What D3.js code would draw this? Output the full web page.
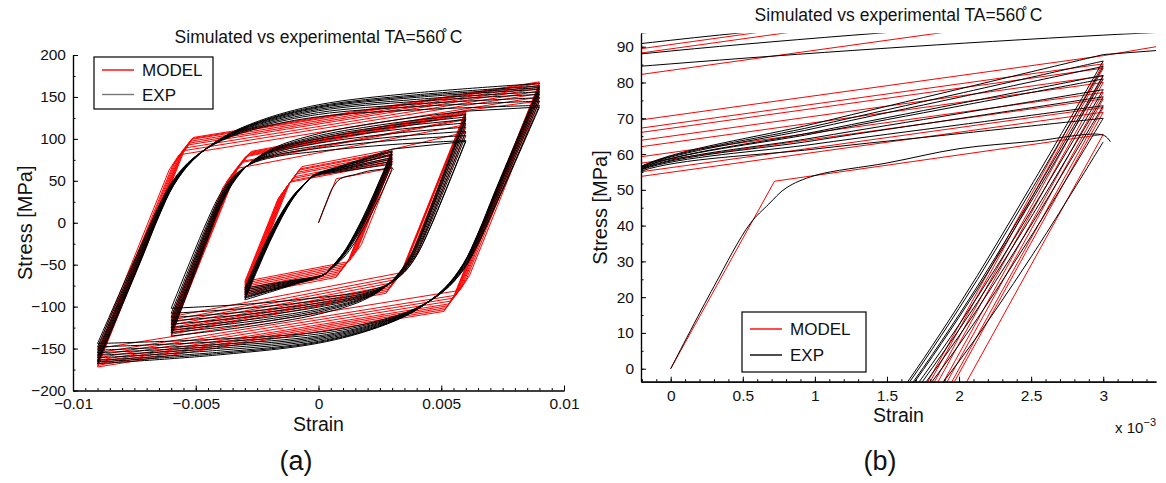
<!DOCTYPE html>
<html><head><meta charset="utf-8">
<script src="https://cdn.jsdelivr.net/npm/d3@7"></script>
<style>
body{margin:0;background:#fff}
svg{display:block}
text{font-family:"Liberation Sans",Arial,Helvetica,sans-serif;fill:#111}
</style>
</head><body>
<svg id="chart" width="1166" height="483"></svg>
<script>
// ---------------- DATA ----------------
const amplitudes = [0.003, 0.006, 0.009];

// MODEL (red): peak stresses at +a (first value of each block is reached by loading/transition,
// last value of blocks A,B is passed through while loading to the next amplitude) and at -a
const modelInitial = [[0, 0], [0.00072, 52.4], [0.003, 65.5]];
const modelMaxA = [65.5, 71.7, 73.0, 75.4, 77.2, 80.0, 81.8, 84.0, 85.2, 87.5];
const modelMinA = [-70, -72, -74, -76, -78, -80, -82, -84, -86];
const modelMaxB = [108, 117, 123, 124.2, 129, 130, 131, 132, 133, 134];
const modelMinB = [-112, -116, -119, -122, -125, -127, -129, -131, -133];
const modelMaxC = [145, 150, 154, 157, 160, 162, 164, 166, 167, 168];
const modelMinC = [-150, -155, -158, -161, -164, -166, -168, -170, -172];
// model branch parameters per amplitude: elastic modulus, second slope, its stress span, hardening slope [MPa]
const modelE = [73000, 73000, 73000];
const modelE2 = [40000, 38000, 45000];
const modelD = [20, 22, 18];
const modelH = [5600, 5600, 4700];

// EXPERIMENT (black)
const expInitial = [[0, 0], [0.0003, 23], [0.00055, 40.5], [0.00068, 46], [0.0008, 50.5], [0.001, 54],
  [0.0015, 57.5], [0.002, 61.5], [0.0025, 63.5], [0.003, 65.3], [0.00305, 63.4]];
const expMaxA = [63.4, 70, 73.5, 76, 78, 81, 82, 84.5, 86, 87.8];
const expMinA = [-78, -80, -82, -84, -86, -88, -89, -90, -92];
const expMaxB = [97, 98, 104, 109, 114, 119, 123, 126, 129, 133];
const expMinB = [-102, -108, -113, -117, -121, -125, -128, -131, -135];
const expMaxC = [138, 140, 145, 149, 153, 156, 159, 161, 163, 166];
const expMinC = [-144, -148, -152, -155, -158, -161, -164, -166, -168];
// mean reversal branch of each amplitude: strain / stress distance from the start tip
const expBranchStrainA = [0, 0.0005, 0.001, 0.0015, 0.002, 0.0025, 0.0028, 0.004, 0.005, 0.006];
const expBranchStressA = [0, 34, 66, 94, 117, 133, 141, 150, 157, 164];
const expStartWeightA = [1, 0.88, 0.7, 0.5, 0.3, 0.15, 0.08, 0, 0, 0];
const expEndWeightA = [0, 0, 0, 0.02, 0.05, 0.1, 0.14, 0.4, 0.7, 1];
const expBranchStrainB = [0, 0.0008, 0.0015, 0.002, 0.0025, 0.0032, 0.0042, 0.006, 0.009, 0.012];
const expBranchStressB = [0, 60, 112, 146, 170, 190, 204, 216, 228, 236];
const expStartWeightB = [1, 0.88, 0.7, 0.5, 0.32, 0.15, 0.05, 0, 0, 0];
const expEndWeightB = [0, 0, 0, 0.03, 0.08, 0.18, 0.36, 0.6, 0.82, 1];
const expBranchStrainC = [0, 0.001, 0.0018, 0.0025, 0.0031, 0.0039, 0.0051, 0.0066, 0.009, 0.013, 0.018];
const expBranchStressC = [0, 68, 122, 170, 204, 232, 256, 273, 289, 300, 308];
const expStartWeightC = [1, 0.9, 0.75, 0.55, 0.35, 0.2, 0.08, 0.02, 0, 0, 0];
const expEndWeightC = [0, 0, 0, 0.02, 0.05, 0.1, 0.2, 0.35, 0.55, 0.78, 1];
const expMeanMin = [-85, -120, -156];

// axes
const leftXTicks = [-0.01, -0.005, 0, 0.005, 0.01];
const leftXTickLabels = ["\u22120.01", "\u22120.005", "0", "0.005", "0.01"];
const leftYTicks = [-200, -150, -100, -50, 0, 50, 100, 150, 200];
const rightXTicks = [0, 0.0005, 0.001, 0.0015, 0.002, 0.0025, 0.003];
const rightXTickLabels = ["0", "0.5", "1", "1.5", "2", "2.5", "3"];
const rightYTicks = [0, 10, 20, 30, 40, 50, 60, 70, 80, 90];
const seriesNames = ["MODEL", "EXP"];
const seriesColors = ["#ff0000", "#000000"];
const titleText = "Simulated vs experimental TA=560\u030A C";

// ---------------- BUILD BRANCHES ----------------
const modelMax = [modelMaxA, modelMaxB, modelMaxC], modelMin = [modelMinA, modelMinB, modelMinC];
const expMax = [expMaxA, expMaxB, expMaxC], expMin = [expMinA, expMinB, expMinC];
const expShapes = [
  {de: expBranchStrainA, ds: expBranchStressA, ws: expStartWeightA, we: expEndWeightA},
  {de: expBranchStrainB, ds: expBranchStressB, ws: expStartWeightB, we: expEndWeightB},
  {de: expBranchStrainC, ds: expBranchStressC, ws: expStartWeightC, we: expEndWeightC}];

function tipSequence(maxs, mins) {
  const seq = [];
  amplitudes.forEach((a, b) => {
    seq.push({e: a, s: maxs[b][0], b});
    mins[b].forEach((m, i) => {
      seq.push({e: -a, s: m, b});
      seq.push({e: a, s: maxs[b][i + 1], b});
    });
  });
  return seq;
}

function modelBranch(p, q) {
  if (Math.sign(p.e) === Math.sign(q.e)) return [[p.e, p.s], [q.e, q.s]];
  const b = q.b, dir = Math.sign(q.e - p.e);
  const U = Math.abs(q.e - p.e), V = (q.s - p.s) * dir;
  const E = modelE[b], E2 = modelE2[b], d = modelD[b], H = modelH[b];
  const v1 = (U - d / E2 - (V - d) / H) / (1 / E - 1 / H);
  const u1 = v1 / E, u2 = u1 + d / E2;
  return [[p.e, p.s], [p.e + dir * u1, p.s + dir * v1], [p.e + dir * u2, p.s + dir * (v1 + d)], [q.e, q.s]];
}

function expBranch(p, q) {
  if (Math.sign(p.e) === Math.sign(q.e)) return [[p.e, p.s], [q.e, q.s]];
  const sh = expShapes[q.b], dir = Math.sign(q.e - p.e);
  const range = sh.ds[sh.ds.length - 1];
  const mMin = expMeanMin[q.b], mMax = mMin + range;
  const ms = dir > 0 ? mMin : mMax, mt = dir > 0 ? mMax : mMin;
  return sh.de.map((de, k) => [p.e + dir * de,
    ms + dir * sh.ds[k] + (p.s - ms) * sh.ws[k] + (q.s - mt) * sh.we[k]]);
}

function buildBranches(seq, initial, fn) {
  const out = [initial];
  for (let i = 0; i + 1 < seq.length; i++) out.push(fn(seq[i], seq[i + 1]));
  return out;
}
const modelSeq = tipSequence(modelMax, modelMin);
const expSeq = tipSequence(expMax, expMin);
const modelBranches = buildBranches(modelSeq, modelInitial, modelBranch);
const expBranches = buildBranches(expSeq, expInitial, expBranch);

// ---------------- DRAW ----------------
const svg = d3.select("#chart");
const fmtMinus = v => (v < 0 ? "\u2212" + Math.abs(v) : String(v));

function panel(cfg) {
  const g = svg.append("g");
  const x = d3.scaleLinear().domain(cfg.xDomain).range([cfg.left, cfg.right]);
  const y = d3.scaleLinear().domain(cfg.yDomain).range([cfg.bottom, cfg.top]);
  const clipId = "clip" + cfg.id;
  svg.append("clipPath").attr("id", clipId).append("rect")
    .attr("x", cfg.left).attr("y", cfg.top).attr("width", cfg.right - cfg.left).attr("height", cfg.bottom - cfg.top);
  const data = g.append("g").attr("clip-path", `url(#${clipId})`);
  const lineStraight = d3.line().x(d => x(d[0])).y(d => y(d[1]));
  const lineSmooth = d3.line().x(d => x(d[0])).y(d => y(d[1])).curve(d3.curveCatmullRom.alpha(0.5));
  data.selectAll("path.model").data(modelBranches).join("path").attr("class", "model")
    .attr("d", lineStraight).attr("fill", "none").attr("stroke", seriesColors[0]).attr("stroke-width", 1);
  data.selectAll("path.exp").data(expBranches).join("path").attr("class", "exp")
    .attr("d", lineSmooth).attr("fill", "none").attr("stroke", seriesColors[1]).attr("stroke-width", 1);

  // axes
  const xMinor = g.append("g").attr("transform", `translate(0,${cfg.bottom})`)
    .call(d3.axisBottom(x).tickValues(cfg.xMinor).tickFormat("").tickSize(-2.5).tickSizeOuter(0));
  const yMinor = g.append("g").attr("transform", `translate(${cfg.left},0)`)
    .call(d3.axisLeft(y).tickValues(cfg.yMinor).tickFormat("").tickSize(-2.5).tickSizeOuter(0));
  const xa = g.append("g").attr("transform", `translate(0,${cfg.bottom})`)
    .call(d3.axisBottom(x).tickValues(cfg.xTicks).tickFormat((d, i) => cfg.xLabels[i]).tickSize(-5).tickSizeOuter(0).tickPadding(cfg.xPad));
  const ya = g.append("g").attr("transform", `translate(${cfg.left},0)`)
    .call(d3.axisLeft(y).tickValues(cfg.yTicks).tickFormat(fmtMinus).tickSize(-5).tickSizeOuter(0).tickPadding(7));
  [xMinor, yMinor, xa, ya].forEach(a => {
    a.selectAll("path.domain").attr("stroke", "#000").attr("stroke-width", 1.2);
    a.selectAll("line").attr("stroke", "#000");
    a.selectAll("text").attr("font-family", '"Liberation Sans",Arial,sans-serif').attr("font-size", cfg.tickFont).attr("fill", "#111");
  });

  // titles
  g.append("text").attr("x", (cfg.left + cfg.right) / 2).attr("y", cfg.titleY)
    .attr("text-anchor", "middle").attr("font-size", 17.5).text(titleText);
  g.append("text").attr("x", (cfg.left + cfg.right) / 2).attr("y", cfg.xLabelY)
    .attr("text-anchor", "middle").attr("font-size", 19.5).text("Strain");
  g.append("text").attr("transform", `translate(${cfg.yLabelX},${(cfg.top + cfg.bottom) / 2}) rotate(-90)`)
    .attr("text-anchor", "middle").attr("font-size", 20).text("Stress [MPa]");
  g.append("text").attr("x", cfg.captionX).attr("y", 470).attr("text-anchor", "middle")
    .attr("font-family", '"Liberation Serif","DejaVu Serif",serif').attr("font-size", 27).text(cfg.caption);

  // legend
  const L = cfg.legend;
  const lg = g.append("g");
  lg.append("rect").attr("x", L.x).attr("y", L.y).attr("width", L.w).attr("height", L.h)
    .attr("fill", "#fff").attr("stroke", "#000").attr("stroke-width", 1.2);
  seriesNames.forEach((name, i) => {
    const yy = L.y + L.row0 + i * L.rowH;
    lg.append("line").attr("x1", L.x + 8).attr("x2", L.x + 40).attr("y1", yy).attr("y2", yy)
      .attr("stroke", i === 1 ? L.expColor : seriesColors[0]).attr("stroke-width", 1.4);
    lg.append("text").attr("x", L.x + 48).attr("y", yy + 6).attr("font-size", 17).text(name);
  });
  return {x, y, g};
}

panel({
  id: "a", left: 73, right: 564, top: 55, bottom: 390.5,
  xDomain: [-0.01, 0.01], yDomain: [-200, 200],
  xTicks: leftXTicks, xLabels: leftXTickLabels, yTicks: leftYTicks,
  xMinor: d3.range(-20, 21).map(k => k * 0.0005), yMinor: d3.range(-8, 9).map(k => k * 25),
  tickFont: 15.5, xPad: 7, titleY: 43, xLabelY: 431, yLabelX: 32, caption: "(a)", captionX: 296,
  legend: {x: 94, y: 57, w: 119, h: 52, row0: 13, rowH: 24.5, expColor: "#777"}
});

const right = panel({
  id: "b", left: 641, right: 1156, top: 33.3, bottom: 381.7,
  xDomain: [-0.000206, 0.003366], yDomain: [-3.63, 93.75],
  xTicks: rightXTicks, xLabels: rightXTickLabels, yTicks: rightYTicks,
  xMinor: d3.range(-2, 34).map(k => k * 0.0001), yMinor: d3.range(0, 19).map(k => k * 5),
  tickFont: 15.5, xPad: 8, titleY: 21, xLabelY: 422, yLabelX: 607, caption: "(b)", captionX: 880,
  legend: {x: 742, y: 312, w: 124, h: 60, row0: 17, rowH: 26, expColor: "#000"}
});
const sx = right.g.append("text").attr("x", 1156).attr("y", 433).attr("text-anchor", "end").attr("font-size", 15);
sx.append("tspan").text("x 10");
sx.append("tspan").attr("dy", -7).attr("font-size", 11).text("\u22123");
</script>
</body></html>
